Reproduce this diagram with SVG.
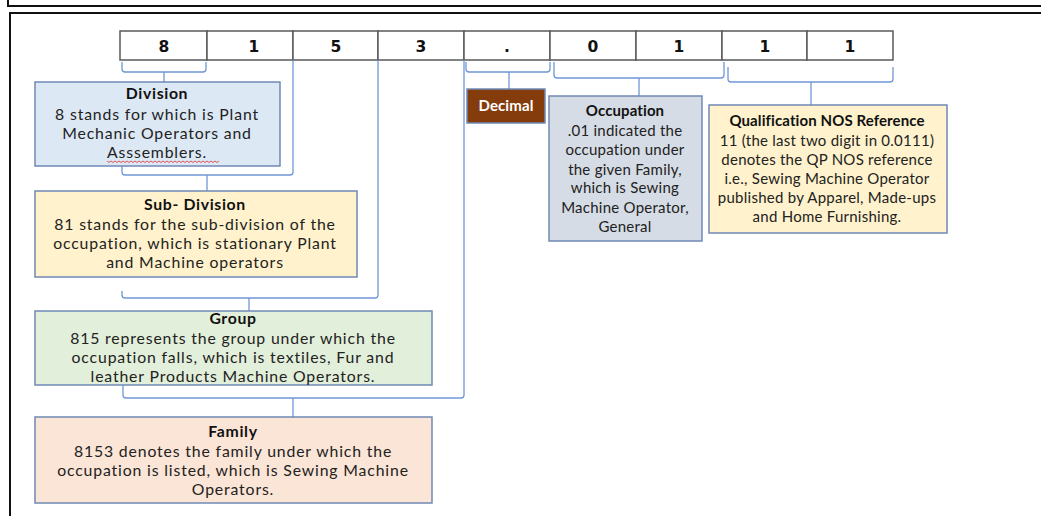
<svg xmlns="http://www.w3.org/2000/svg" width="1041" height="516" viewBox="0 0 1041 516">
<style>
.frame{fill:none;stroke:#111;stroke-width:2}
.cell{fill:#fff;stroke:#595959;stroke-width:1.5}
.dig{font-family:"DejaVu Sans",sans-serif;font-weight:bold;font-size:15.5px;fill:#111;text-anchor:middle}
.box{stroke:#7189b6;stroke-width:1.5}
.t{font-family:Lato,sans-serif;font-size:15.8px;letter-spacing:0.85px;fill:#222;text-anchor:middle}
.tb{font-family:Lato,sans-serif;font-size:15.8px;letter-spacing:0.65px;font-weight:bold;fill:#111;text-anchor:middle}
.s{font-family:Lato,sans-serif;font-size:15px;letter-spacing:0.25px;fill:#222;text-anchor:middle}
.sb{font-family:Lato,sans-serif;font-size:15px;letter-spacing:0.1px;font-weight:bold;fill:#111;text-anchor:middle}
.con{fill:none;stroke:#6f97d6;stroke-width:1.3}
</style>
<rect width="1041" height="516" fill="#fff"/>
<path class="frame" d="M8 0V6H1041"/>
<path class="frame" d="M10 516V13H1041"/>

<g id="code">
<rect class="cell" x="120" y="31" width="87" height="29"/>
<rect class="cell" x="207" y="31" width="86" height="29"/>
<rect class="cell" x="293" y="31" width="85" height="29"/>
<rect class="cell" x="378" y="31" width="86" height="29"/>
<rect class="cell" x="464" y="31" width="86" height="29"/>
<rect class="cell" x="550" y="31" width="86" height="29"/>
<rect class="cell" x="636" y="31" width="86" height="29"/>
<rect class="cell" x="722" y="31" width="85" height="29"/>
<rect class="cell" x="807" y="31" width="86" height="29"/>
<text class="dig" x="164" y="52">8</text>
<text class="dig" x="254" y="52">1</text>
<text class="dig" x="336" y="52">5</text>
<text class="dig" x="421" y="52">3</text>
<text class="dig" x="507" y="52">.</text>
<text class="dig" x="593" y="52">0</text>
<text class="dig" x="679" y="52">1</text>
<text class="dig" x="765" y="52">1</text>
<text class="dig" x="850" y="52">1</text>
</g>

<g id="connectors">
<path class="con" d="M122 62V69Q122 72 125 72H203Q206 72 206 69V62M164 72V82"/>
<path class="con" d="M293 60V172Q293 175 290 175H125Q122 175 122 172V166M207 175V191"/>
<path class="con" d="M378 60V295Q378 298 375 298H125Q122 298 122 295V291M249 298V311"/>
<path class="con" d="M464 60V395Q464 398 461 398H126Q123 398 123 395V385M293 398V417"/>
<path class="con" d="M466 62V69Q466 72 469 72H547Q550 72 550 69V62M509 72V89"/>
<path class="con" d="M554 62V75Q554 78 557 78H721Q724 78 724 75V62M639 78V96"/>
<path class="con" d="M728 67V79Q728 82 731 82H890Q893 82 893 79V67M811 82V105"/>
</g>

<g id="division">
<rect class="box" x="35" y="82" width="245" height="84" fill="#dde8f5"/>
<text class="tb" x="157" y="99">Division</text>
<text class="t" x="157" y="120">8 stands for which is Plant</text>
<text class="t" x="157" y="139">Mechanic Operators and</text>
<text class="t" x="157" y="158">Asssemblers.</text>
<path d="M107 161l2 1.5 2-1.5 2 1.5 2-1.5 2 1.5 2-1.5 2 1.5 2-1.5 2 1.5 2-1.5 2 1.5 2-1.5 2 1.5 2-1.5 2 1.5 2-1.5 2 1.5 2-1.5 2 1.5 2-1.5 2 1.5 2-1.5 2 1.5 2-1.5 2 1.5 2-1.5 2 1.5 2-1.5 2 1.5 2-1.5 2 1.5 2-1.5 2 1.5 2-1.5 2 1.5 2-1.5 2 1.5 2-1.5 2 1.5 2-1.5 2 1.5 2-1.5 2 1.5 2-1.5 2 1.5 2-1.5 2 1.5 2-1.5 2 1.5 2-1.5 2 1.5 2-1.5 2 1.5 2-1.5 2 1.5 2-1.5" fill="none" stroke="#e03030" stroke-width="0.8"/>
</g>

<g id="subdivision">
<rect class="box" x="35" y="191" width="322" height="86" fill="#fff2cc"/>
<text class="tb" x="195" y="210">Sub- Division</text>
<text class="t" x="195" y="230">81 stands for the sub-division of the</text>
<text class="t" x="195" y="249">occupation, which is stationary Plant</text>
<text class="t" x="195" y="268">and Machine operators</text>
</g>

<g id="group">
<rect class="box" x="35" y="311" width="397" height="74" fill="#e2efda"/>
<text class="tb" x="233" y="324">Group</text>
<text class="t" x="233" y="344">815 represents the group under which the</text>
<text class="t" x="233" y="363">occupation falls, which is textiles, Fur and</text>
<text class="t" x="233" y="382">leather Products Machine Operators.</text>
</g>

<g id="family">
<rect class="box" x="35" y="417" width="397" height="86" fill="#fbe5d6"/>
<text class="tb" x="233" y="437">Family</text>
<text class="t" x="233" y="457">8153 denotes the family under which the</text>
<text class="t" x="233" y="476">occupation is listed, which is Sewing Machine</text>
<text class="t" x="233" y="495">Operators.</text>
</g>

<g id="decimal">
<rect class="box" x="467" y="89" width="78" height="34" fill="#843c0c"/>
<text class="sb" x="506" y="111" style="fill:#fff">Decimal</text>
</g>

<g id="occupation">
<rect class="box" x="549" y="96" width="153" height="145" fill="#d6dce5"/>
<text class="sb" x="625" y="116">Occupation</text>
<text class="s" x="625" y="136">.01 indicated the</text>
<text class="s" x="625" y="155">occupation under</text>
<text class="s" x="625" y="175">the given Family,</text>
<text class="s" x="625" y="193">which is Sewing</text>
<text class="s" x="625" y="213">Machine Operator,</text>
<text class="s" x="625" y="232">General</text>
</g>

<g id="qualification">
<rect class="box" x="709" y="105" width="238" height="128" fill="#fff2cc"/>
<text class="sb" x="827" y="126">Qualification NOS Reference</text>
<text class="s" x="827" y="146">11 (the last two digit in 0.0111)</text>
<text class="s" x="827" y="165">denotes the QP NOS reference</text>
<text class="s" x="827" y="184">i.e., Sewing Machine Operator</text>
<text class="s" x="827" y="203">published by Apparel, Made-ups</text>
<text class="s" x="827" y="222">and Home Furnishing.</text>
</g>
</svg>
